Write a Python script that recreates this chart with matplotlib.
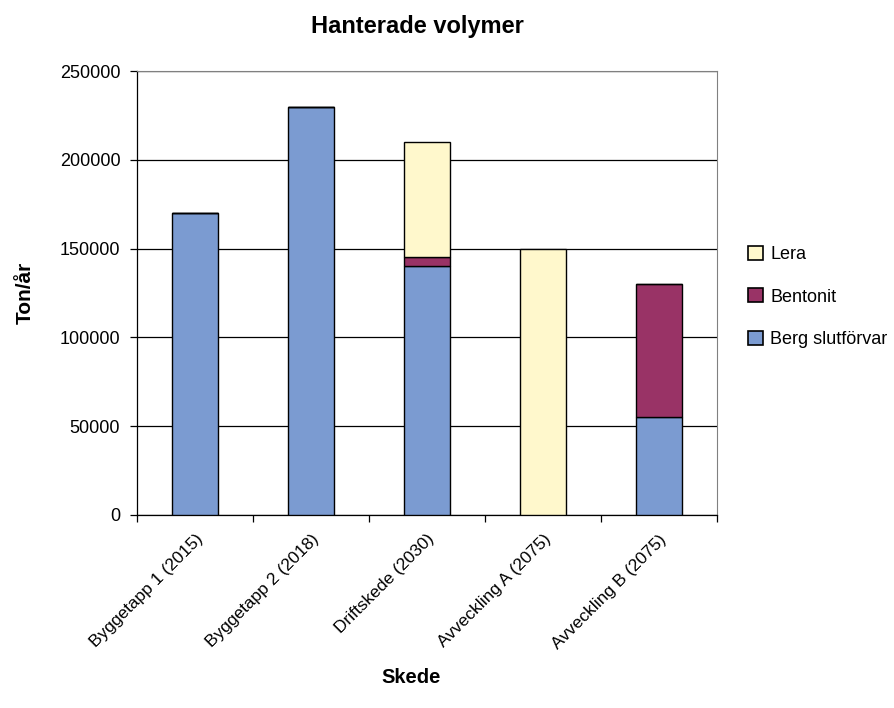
import numpy as np
import matplotlib.pyplot as plt
from matplotlib.patches import Patch

plt.rcParams['font.family'] = ['Liberation Sans', 'DejaVu Sans']

skeden = ["Byggetapp 1 (2015)", "Byggetapp 2 (2018)", "Driftskede (2030)",
          "Avveckling A (2075)", "Avveckling B (2075)"]
berg = [170000, 230000, 140000, 0, 55000]
bentonit = [0, 0, 5000, 0, 75000]
lera = [0, 0, 65000, 150000, 0]

c_berg = '#7B9BD1'
c_bent = '#993366'
c_lera = '#FFF8CC'

fig = plt.figure(figsize=(8.94, 7.08), dpi=100)
ax = fig.add_axes([0.1532, 0.2726, 0.6488, 0.6271])

x = np.arange(len(skeden))
w = 0.4
bott = np.array(berg)
ax.bar(x, berg, w, color=c_berg, edgecolor='black', linewidth=1, zorder=3)
ax.bar(x, bentonit, w, bottom=bott, color=c_bent, edgecolor='black', linewidth=1, zorder=3)
bott = bott + np.array(bentonit)
ax.bar(x, lera, w, bottom=bott, color=c_lera, edgecolor='black', linewidth=1, zorder=3)

ax.set_xlim(-0.5, len(skeden) - 0.5)
ax.set_ylim(0, 250000)
ax.set_yticks(np.arange(0, 250001, 50000))
ax.yaxis.grid(True, color='black', linewidth=0.9, zorder=0)
ax.tick_params(axis='y', labelsize=13, length=5, pad=7, direction='out', width=0.9)

# ticks between categories, labels at the centre
ax.set_xticks(np.arange(-0.5, len(skeden), 1.0))
ax.set_xticklabels([])
ax.set_xticks(x, minor=True)
ax.set_xticklabels(skeden, minor=True, rotation=45, ha='right',
                   rotation_mode='anchor', fontsize=12.5)
ax.tick_params(axis='x', which='major', length=5, width=0.9)
ax.tick_params(axis='x', which='minor', length=0, pad=12)

for s in ['top', 'right']:
    ax.spines[s].set_color('#808080')
for s in ['left', 'bottom']:
    ax.spines[s].set_linewidth(0.9)

ax.set_ylabel('Ton/år', fontsize=15, fontweight='bold')
ax.yaxis.set_label_coords(-0.176, 0.5)
ax.set_xlabel('Skede', fontsize=14.5, fontweight='bold')
ax.xaxis.set_label_coords(0.472, -0.345)
fig.text(0.467, 0.962, 'Hanterade volymer', ha='center', va='center',
         fontsize=17, fontweight='bold')

handles = [Patch(facecolor=c_lera, edgecolor='black', linewidth=1.2),
           Patch(facecolor=c_bent, edgecolor='black', linewidth=1.2),
           Patch(facecolor=c_berg, edgecolor='black', linewidth=1.2)]
fig.legend(handles, ['Lera', 'Bentonit', 'Berg slutförvar'],
           loc='center left', bbox_to_anchor=(0.8367, 0.5805), frameon=False,
           borderpad=0, borderaxespad=0, fontsize=13, handlelength=0.83,
           handleheight=0.83, handletextpad=0.4, labelspacing=1.4)

fig.savefig('out.png', dpi=100)
